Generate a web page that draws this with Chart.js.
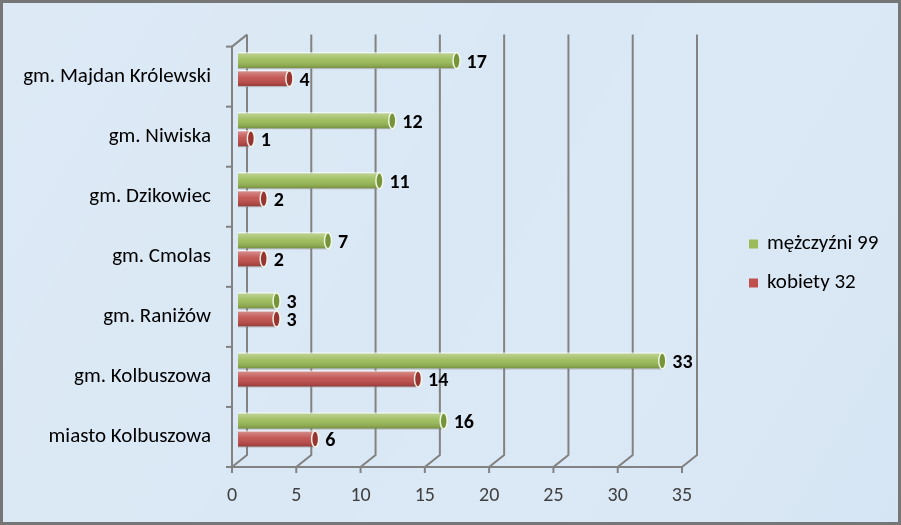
<!DOCTYPE html>
<html>
<head>
<meta charset="utf-8">
<script src="https://cdn.jsdelivr.net/npm/chart.js@4.4.1/dist/chart.umd.min.js"></script>
<style>
  html, body { margin: 0; padding: 0; background: #dae8f5; }
  #wrap { width: 901px; height: 525px; position: relative; }
  canvas { display: block; }
</style>
</head>
<body>
<div id="wrap"><canvas id="c" width="901" height="525"></canvas></div>
<script>
const categories = ['gm. Majdan Królewski', 'gm. Niwiska', 'gm. Dzikowiec', 'gm. Cmolas', 'gm. Raniżów', 'gm. Kolbuszowa', 'miasto Kolbuszowa'];
const men = [17, 12, 11, 7, 3, 33, 16];
const women = [4, 1, 2, 2, 3, 14, 6];
const seriesLabels = ['mężczyźni 99', 'kobiety 32'];
const xTickValues = [0, 5, 10, 15, 20, 25, 30, 35];

const FONT = 'Carlito, Calibri, Lato, sans-serif';
const GREEN = '#9bbb59', RED = '#c0504d';
const CAP = { [GREEN]: '#76943a', [RED]: '#983532' };
// 3D offsets relative to the bar plane
const FRONT = { dx: -6, dy: 7 };
const BACK = { dx: 9, dy: -5 };

const bgPlugin = {
  id: 'bg',
  beforeDraw(chart) {
    const ctx = chart.ctx;
    ctx.save();
    ctx.fillStyle = '#dae8f5';
    ctx.fillRect(0, 0, chart.width, chart.height);
    const g = ctx.createLinearGradient(0, 0, chart.width, chart.height);
    g.addColorStop(0, 'rgba(255,255,255,0.08)');
    g.addColorStop(0.5, 'rgba(255,255,255,0)');
    g.addColorStop(1, 'rgba(190,212,236,0.15)');
    ctx.fillStyle = g;
    ctx.fillRect(0, 0, chart.width, chart.height);
    ctx.restore();
  },
  afterDraw(chart) {
    const ctx = chart.ctx;
    ctx.save();
    ctx.strokeStyle = '#767676';
    ctx.lineWidth = 3;
    ctx.strokeRect(1.5, 1.5, chart.width - 3, chart.height - 3);
    ctx.restore();
  }
};

const wallPlugin = {
  id: 'walls',
  beforeDatasetsDraw(chart) {
    const ctx = chart.ctx;
    const xs = chart.scales.x, ys = chart.scales.y;
    const a = chart.chartArea;
    ctx.save();
    ctx.strokeStyle = '#828282';
    ctx.lineWidth = 2;
    ctx.lineCap = 'butt';
    xTickValues.forEach(v => {
      const px = xs.getPixelForValue(v);
      ctx.beginPath();
      ctx.moveTo(px + BACK.dx, a.top + BACK.dy);
      ctx.lineTo(px + BACK.dx, a.bottom + BACK.dy);
      ctx.lineTo(px + FRONT.dx, a.bottom + FRONT.dy);
      ctx.lineTo(px + FRONT.dx, a.bottom + FRONT.dy + 6);
      ctx.stroke();
    });
    ctx.beginPath();
    ctx.moveTo(xs.getPixelForValue(xTickValues[0]) + FRONT.dx, a.bottom + FRONT.dy);
    ctx.lineTo(xs.getPixelForValue(xTickValues[xTickValues.length - 1]) + FRONT.dx, a.bottom + FRONT.dy);
    ctx.stroke();
    const lx = a.left + FRONT.dx;
    ctx.beginPath();
    ctx.moveTo(lx, a.top + FRONT.dy);
    ctx.lineTo(lx, a.bottom + FRONT.dy);
    ctx.stroke();
    ctx.beginPath();
    ctx.moveTo(lx, a.top + FRONT.dy);
    ctx.lineTo(a.left + BACK.dx, a.top + BACK.dy);
    ctx.stroke();
    const n = categories.length;
    const step = (a.bottom - a.top) / n;
    for (let k = 0; k <= n; k++) {
      const y = ys.getPixelForValue(0) - step / 2 + k * step + FRONT.dy;
      ctx.beginPath();
      ctx.moveTo(lx - 6, y);
      ctx.lineTo(lx, y);
      ctx.stroke();
    }
    ctx.restore();
  }
};

const barDecor = {
  id: 'barDecor',
  afterDatasetsDraw(chart) {
    const ctx = chart.ctx;
    ctx.save();
    chart.data.datasets.forEach((ds, di) => {
      const meta = chart.getDatasetMeta(di);
      meta.data.forEach((el, i) => {
        const { x, y, base, height } = el.getProps(['x', 'y', 'base', 'height'], true);
        const top = y - height / 2;
        const g = ctx.createLinearGradient(0, top, 0, top + height);
        g.addColorStop(0, 'rgba(255,255,255,0.55)');
        g.addColorStop(0.12, 'rgba(255,255,255,0.30)');
        g.addColorStop(0.45, 'rgba(255,255,255,0.05)');
        g.addColorStop(0.8, 'rgba(0,0,0,0.10)');
        g.addColorStop(1, 'rgba(0,0,0,0.28)');
        ctx.fillStyle = g;
        ctx.fillRect(base, top, x - base, height);
        ctx.beginPath();
        ctx.ellipse(x, y, 3.5, height / 2 - 0.5, 0, 0, Math.PI * 2);
        ctx.fillStyle = CAP[ds.backgroundColor] || ds.backgroundColor;
        ctx.fill();
        ctx.strokeStyle = 'rgba(245,250,235,0.95)';
        ctx.lineWidth = 1.5;
        ctx.stroke();
        ctx.fillStyle = '#000';
        ctx.font = 'bold 20px ' + FONT;
        ctx.textAlign = 'left';
        ctx.textBaseline = 'middle';
        ctx.fillText(String(ds.data[i]), x + 10, y + 2);
      });
    });
    ctx.restore();
  }
};

const legendPlugin = {
  id: 'customLegend',
  afterDraw(chart) {
    const ctx = chart.ctx;
    ctx.save();
    ctx.font = '21px ' + FONT;
    ctx.textAlign = 'left';
    ctx.textBaseline = 'middle';
    chart.data.datasets.forEach((ds, i) => {
      const cy = 244 + i * 39;
      ctx.fillStyle = ds.backgroundColor;
      ctx.fillRect(749, cy - 4.5, 9, 9);
      ctx.fillStyle = '#000';
      ctx.fillText(ds.label, 767, cy);
    });
    ctx.restore();
  }
};

new Chart(document.getElementById('c'), {
  type: 'bar',
  data: {
    labels: categories,
    datasets: [
      { label: seriesLabels[0], data: men, backgroundColor: GREEN, borderColor: 'rgba(255,255,255,0.6)', borderWidth: 1, categoryPercentage: 0.6, barPercentage: 0.94 },
      { label: seriesLabels[1], data: women, backgroundColor: RED, borderColor: 'rgba(255,255,255,0.6)', borderWidth: 1, categoryPercentage: 0.6, barPercentage: 0.94 }
    ]
  },
  options: {
    indexAxis: 'y',
    responsive: false,
    animation: false,
    devicePixelRatio: 1,
    layout: { padding: { top: 36, left: 0, right: 213, bottom: 0 } },
    plugins: { legend: { display: false }, tooltip: { enabled: false } },
    scales: {
      x: {
        min: 0, max: 35,
        afterBuildTicks(scale) { scale.ticks = xTickValues.map(v => ({ value: v })); },
        afterFit(scale) { scale.height = 65; },
        grid: { display: false, drawTicks: false },
        border: { display: false },
        ticks: { padding: 24, labelOffset: -6, color: '#404040', font: { family: FONT, size: 20 } }
      },
      y: {
        afterFit(scale) { scale.width = 238; },
        grid: { display: false, drawTicks: false },
        border: { display: false },
        ticks: { padding: 27, labelOffset: 7, color: '#000', font: { family: FONT, size: 21 } }
      }
    }
  },
  plugins: [bgPlugin, wallPlugin, barDecor, legendPlugin]
});
</script>
</body>
</html>
